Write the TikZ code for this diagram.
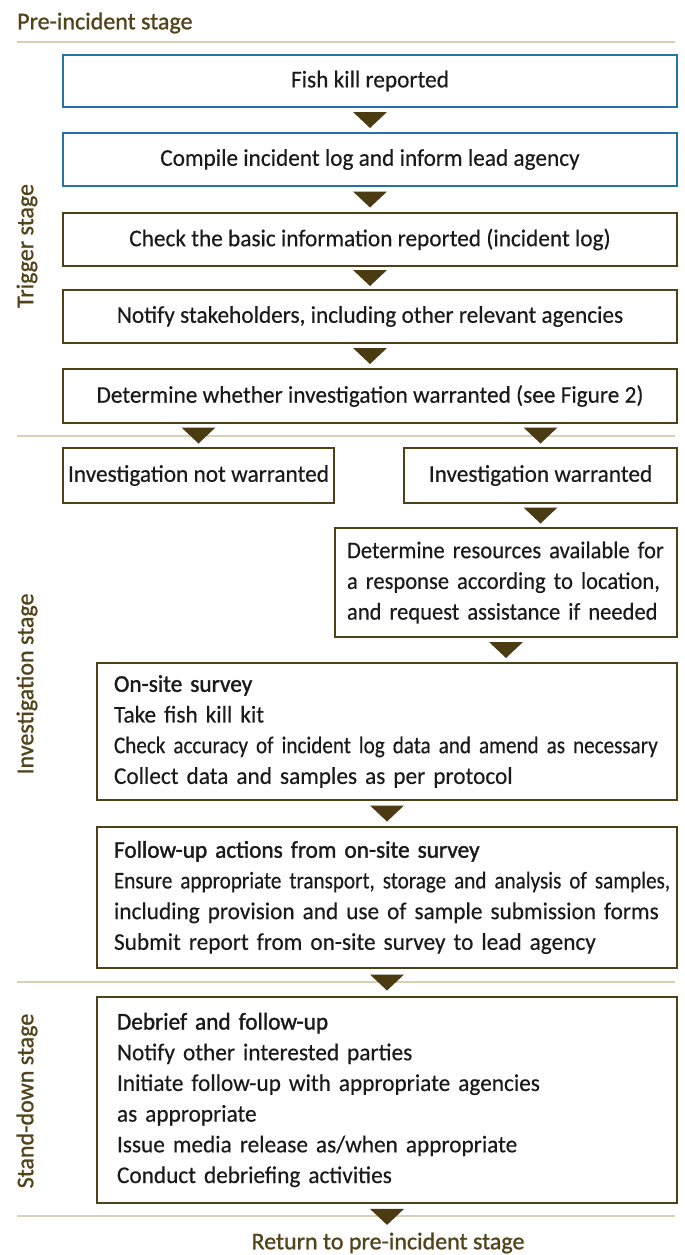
\documentclass[tikz,border=0pt]{standalone}
\usepackage{fontspec}
\setmainfont{Carlito}[FakeStretch=0.97,FakeBold=0.3]
\newfontfamily\headfont[FakeBold=1.4,FakeStretch=0.97]{Carlito}
\newfontfamily\tightfont[FakeStretch=0.88,FakeBold=0.3]{Carlito}
\newfontfamily\resfont[FakeStretch=0.94,FakeBold=0.3]{Carlito}
\newfontfamily\stagefont[FakeBold=1.0]{Carlito}
\usetikzlibrary{calc}
\definecolor{boxcol}{HTML}{4F4117}
\definecolor{bluecol}{HTML}{2474A6}
\definecolor{arrowcol}{HTML}{4B3B12}
\definecolor{sepcol}{HTML}{D9D0B6}
\definecolor{stagecol}{HTML}{52431A}
\definecolor{textcol}{HTML}{1A1A1A}
\newcommand\flowtri[2]{\fill[tri] ($(#1)!0.5!(#2)$) +(-17,-8) -- +(17,-8) -- +(0,8) -- cycle;}
\begin{document}
\begin{tikzpicture}[x=1pt,y=-1pt,
  every node/.style={font=\fontsize{24}{30.7}\selectfont, text=textcol},
  stagebox/.style={draw=boxcol, line width=1.6pt, inner sep=0pt, fill=white},
  bluebox/.style={stagebox, draw=bluecol},
  listbox/.style={stagebox, align=left, anchor=center},
  stagelabel/.style={text=stagecol, font=\stagefont\fontsize{24}{28}\selectfont},
  sepline/.style={draw=sepcol, line width=2.6pt},
  tri/.style={fill=arrowcol}]
\useasboundingbox (0,0) rectangle (685,1255);
\fill[white] (0,0) rectangle (685,1255);
% stage separators
\draw[sepline] (17,42) -- (675,42);
\draw[sepline] (17,436) -- (675,436);
\draw[sepline] (17,982) -- (675,982);
\draw[sepline] (17,1216) -- (675,1216);
% stage labels
\node[stagelabel, anchor=west, inner sep=0pt] (st1) at (17,23) {Pre-incident stage};
\node[stagelabel, rotate=90, inner sep=0pt] (st2) at (27,246) {Trigger stage};
\node[stagelabel, rotate=90, inner sep=0pt] (st3) at (27,684) {Investigation stage};
\node[stagelabel, rotate=90, inner sep=0pt] (st4) at (27,1101) {Stand-down stage};
% trigger stage boxes
\node[bluebox, minimum width=614pt, minimum height=52pt] (b1) at (370,81) {Fish kill reported};
\node[bluebox, minimum width=614pt, minimum height=53pt] (b2) at (370,159.5) {Compile incident log and inform lead agency};
\node[stagebox, minimum width=614pt, minimum height=53pt] (b3) at (370,239.5) {Check the basic information reported (incident log)};
\node[stagebox, minimum width=614pt, minimum height=53pt] (b4) at (370,316.5) {Notify stakeholders, including other relevant agencies};
\node[stagebox, minimum width=614pt, minimum height=54pt] (b5) at (370,396) {Determine whether investigation warranted (see Figure 2)};
% investigation stage
\node[stagebox, minimum width=271pt, minimum height=55pt] (nw) at (198.5,475.5) {Investigation not warranted};
\node[stagebox, minimum width=273pt, minimum height=55pt] (w) at (540.5,475.5) {Investigation warranted};
\node[listbox, text width=318pt, inner xsep=12pt, minimum height=109pt, font=\resfont\fontsize{24}{30.7}\selectfont] (res) at (506,582.5)
  {\mbox{Determine resources available for}\\ \mbox{a response according to location,}\\ \mbox{and request assistance if needed}};
\node[listbox, text width=546pt, inner xsep=17pt, minimum height=137pt] (os) at (387,731.5)
  {\mbox{\headfont On-site survey}\\ \mbox{Take fish kill kit}\\ \mbox{\tightfont Check accuracy of incident log data and amend as necessary}\\ \mbox{Collect data and samples as per protocol}};
\node[listbox, text width=546pt, inner xsep=17pt, minimum height=141pt] (fu) at (387,897.5)
  {\mbox{\headfont Follow-up actions from on-site survey}\\ \mbox{\tightfont Ensure appropriate transport, storage and analysis of samples,}\\ \mbox{including provision and use of sample submission forms}\\ \mbox{Submit report from on-site survey to lead agency}};
% stand-down stage
\node[listbox, text width=540pt, inner xsep=20pt, minimum height=206pt] (db) at (387,1100)
  {\mbox{\headfont Debrief and follow-up}\\ \mbox{Notify other interested parties}\\ \mbox{Initiate follow-up with appropriate agencies}\\ \mbox{as appropriate}\\ \mbox{Issue media release as/when appropriate}\\ \mbox{Conduct debriefing activities}};
\node[stagelabel, inner sep=0pt] (ret) at (388,1243) {Return to pre-incident stage};
% connectors (triangles)
\flowtri{b1.south}{b2.north}
\flowtri{b2.south}{b3.north}
\flowtri{b3.south}{b4.north}
\flowtri{b4.south}{b5.north}
\flowtri{b5.south -| nw.north}{nw.north}
\flowtri{b5.south -| w.north}{w.north}
\flowtri{w.south}{w.south |- res.north}
\flowtri{res.south}{res.south |- os.north}
\flowtri{os.south}{fu.north}
\flowtri{fu.south}{db.north}
\flowtri{db.south}{db.south |- 0,1230}
\end{tikzpicture}
\end{document}
